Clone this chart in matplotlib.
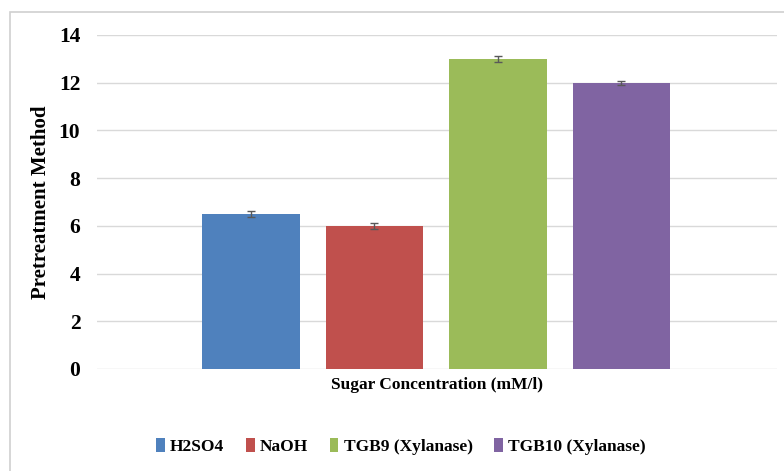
import numpy as np
import matplotlib.pyplot as plt
from matplotlib.patches import Rectangle

methods = ['H2SO4', 'NaOH', 'TGB9 (Xylanase)', 'TGB10 (Xylanase)']
values = [6.5, 6.0, 13.0, 12.0]
errors = [0.12, 0.12, 0.12, 0.08]
colors = ['#4f81bd', '#c0504d', '#9bbb59', '#8064a2']

plt.rcParams['font.family'] = ['Liberation Serif', 'DejaVu Serif']

fig = plt.figure(figsize=(7.84, 4.71), dpi=100)
fig.patches.append(Rectangle((0.013, -0.01), 1.0, 0.985, transform=fig.transFigure,
                             fill=False, edgecolor='#d0d0d0', linewidth=1.2))
ax = fig.add_axes([0.1237, 0.2166, 0.8673, 0.7091])

x = np.arange(len(methods))
for i in range(len(methods)):
    ax.bar(x[i], values[i], width=0.79, color=colors[i], label=methods[i],
           yerr=errors[i], capsize=3, error_kw=dict(ecolor='#595959', elinewidth=1, capthick=1),
           zorder=3)

ax.set_xlim(-1.247, 4.26)
ax.set_ylim(0, 14)
ax.set_yticks(range(0, 15, 2))
ax.set_xticks([])
ax.grid(axis='y', color='#d9d9d9', linewidth=1, zorder=0)
for s in ax.spines.values():
    s.set_visible(False)
ax.tick_params(axis='y', length=0, pad=12, labelsize=15.5)
for t in ax.get_yticklabels():
    t.set_fontweight('bold')

ax.set_ylabel('Pretreatment Method', fontsize=15, fontweight='bold')
ax.yaxis.set_label_coords(-0.068, 0.5)
ax.set_xlabel('Sugar Concentration (mM/l)', fontsize=12.5, fontweight='bold', labelpad=6)

ax.legend(loc='upper center', bbox_to_anchor=(0.447, -0.16), ncol=4, frameon=False,
          prop=dict(weight='bold', size=12.5), handlelength=0.5, handleheight=0.9,
          handletextpad=0.3, columnspacing=1.25)

fig.savefig('out.png', dpi=100)
